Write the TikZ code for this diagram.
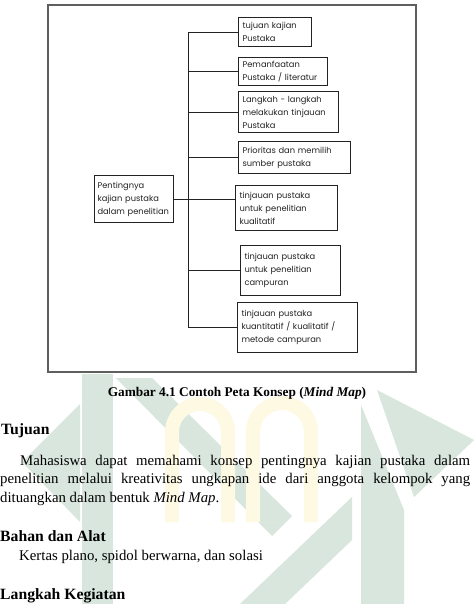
\documentclass[tikz,border=0pt]{standalone}
\usepackage{fontspec}
\setmainfont{Liberation Serif}
\newfontfamily\handfont{Poppins}
\usetikzlibrary{calc}
\definecolor{wmgreen}{RGB}{216,230,221}
\definecolor{wmyellow}{RGB}{253,249,226}
\definecolor{framegray}{RGB}{95,95,95}
\definecolor{pen}{RGB}{35,35,35}
\begin{document}
\begin{tikzpicture}[x=1pt,y=-1pt,
  mbox/.style={draw=pen, line width=1pt, rectangle, anchor=north west, inner sep=0pt,
    font=\handfont\fontsize{8.3}{13}\selectfont, text=pen, align=left},
  link/.style={draw=pen, line width=0.9pt},
  body/.style={anchor=base west, inner sep=0pt, font=\fontsize{14.8}{19}\selectfont},
  head/.style={anchor=base west, inner sep=0pt, font=\bfseries\fontsize{15.7}{19}\selectfont},
  wm/.style={fill=wmgreen, draw=none}]
\useasboundingbox (0,0) rectangle (474,604);
\fill[white] (0,0) rectangle (474,604);
% watermark
\fill[wm] (22,462) -- (80,404) -- (80,522) -- cycle;
\fill[wm] (82,374) -- (113,374) -- (113,604) -- (82,604) -- cycle;
\fill[wm] (116,378) -- (152,378) -- (292,516) -- (272,536) -- cycle;
\fill[wm] (361,405) -- (404,510) -- (404,604) -- (361,604) -- cycle;
\fill[wm] (377,390) -- (474,440) -- (414,497) -- cycle;
\fill[wm] (240,604) -- (352,497) -- (352,540) -- (285,604) -- cycle;
\fill[wmyellow, even odd rule]
  (165,522) -- (165,432) arc[start angle=180,end angle=360,radius=35] -- (235,522) -- cycle
  (179,522) -- (179,432) arc[start angle=180,end angle=360,radius=21] -- (221,522) -- cycle;
\fill[wmyellow, even odd rule]
  (246,522) -- (246,432) arc[start angle=180,end angle=360,radius=36] -- (318,522) -- cycle
  (260,522) -- (260,432) arc[start angle=180,end angle=360,radius=22] -- (304,522) -- cycle;
% frame
\draw[framegray, line width=1.6pt] (48,5) rectangle (416,372);
% mind map
\node[mbox, minimum width=73pt, minimum height=29pt, text width=65pt] (b1) at (238,17) {tujuan kajian\\Pustaka};
\node[mbox, minimum width=89pt, minimum height=28pt, text width=81pt] (b2) at (238,57) {Pemanfaatan\\Pustaka / literatur};
\node[mbox, minimum width=100pt, minimum height=41pt, text width=92pt] (b3) at (238,91) {Langkah - langkah\\melakukan tinjauan\\Pustaka};
\node[mbox, minimum width=112pt, minimum height=32pt, text width=104pt] (b4) at (238,141) {Prioritas dan memilih\\sumber pustaka};
\node[mbox, minimum width=79pt, minimum height=47pt, text width=73pt] (c) at (94,175) {Pentingnya\\kajian pustaka\\dalam penelitian};
\node[mbox, minimum width=102pt, minimum height=45pt, text width=94pt] (b5) at (235,185) {tinjauan pustaka\\untuk penelitian\\kualitatif};
\node[mbox, minimum width=100pt, minimum height=50pt, text width=92pt] (b6) at (240,245) {tinjauan pustaka\\untuk penelitian\\campuran};
\node[mbox, minimum width=120pt, minimum height=50pt, text width=112pt] (b7) at (237,302) {tinjauan pustaka\\kuantitatif / kualitatif /\\metode campuran};
\coordinate (tr) at (188,0);
\draw[link] (b1.west -| tr) -- (b7.west -| tr);
\foreach \b in {b1,b2,b3,b4,b6,b7} \draw[link] (\b.west) -- (\b.west -| tr);
\draw[link] (c.east) -- (b5.west |- c.east);
% text
\node[anchor=base, inner sep=0pt, font=\bfseries\fontsize{13.3}{16}\selectfont] (cap) at (237,396) {Gambar 4.1 Contoh Peta Konsep (\textit{Mind Map})};
\node[head] (h1) at (1,434) {Tujuan};
\node[body] (p1) at (20,465) {\makebox[450pt][s]{Mahasiswa dapat memahami konsep pentingnya kajian pustaka dalam}};
\node[body] (p2) at (0,483.5) {\makebox[470pt][s]{penelitian melalui kreativitas ungkapan ide dari anggota kelompok yang}};
\node[body] (p3) at (0,502.5) {dituangkan dalam bentuk \textit{Mind Map}.};
\node[head] (h2) at (0,541) {Bahan dan Alat};
\node[body] (p4) at (19,560.5) {Kertas plano, spidol berwarna, dan solasi};
\node[head] (h3) at (0,599.5) {Langkah Kegiatan};
\end{tikzpicture}
\end{document}
